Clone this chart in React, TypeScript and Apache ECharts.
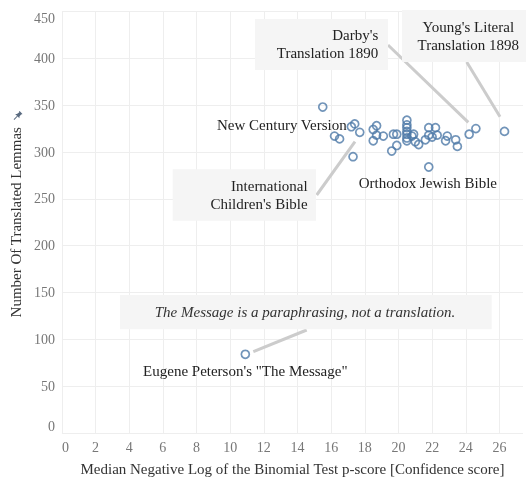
import React, { useEffect, useRef } from "react";
import * as echarts from "echarts";

const confidenceScores = [
  15.5, 16.2, 16.5, 17.3, 17.2, 17.4, 17.7, 18.5, 18.7, 18.5, 18.7, 19.1, 19.6, 19.9,
  19.7, 19.9, 20.5, 20.5, 20.5, 20.5, 20.5, 20.5, 20.5, 20.8, 20.9, 21.0, 21.2, 21.6,
  21.8, 22.2, 21.8, 22.0, 22.3, 22.8, 22.9, 23.4, 23.5, 21.8, 24.2, 24.6, 26.3, 10.9,
];
const translatedLemmas = [
  348, 317, 314, 295, 327, 330, 321, 324, 328, 312, 318, 317, 301, 307,
  319, 319, 334, 329, 326, 322, 319, 315, 312, 317, 319, 311, 308, 313,
  326, 326, 318, 316, 318, 312, 317, 313, 306, 284, 319, 325, 322, 84,
];
const xTickValues = [0, 2, 4, 6, 8, 10, 12, 14, 16, 18, 20, 22, 24, 26];
const yTickValues = [0, 50, 100, 150, 200, 250, 300, 350, 400, 450];

const FONT = "'Liberation Serif', 'Times New Roman', serif";
const BOX = "#f5f5f5";
const LINE = "#cccccc";
const TXT = "#222222";

export default function App() {
  const ref = useRef<HTMLDivElement>(null);
  useEffect(() => {
    if (!ref.current) return;
    const chart = echarts.init(ref.current, null, { renderer: "svg" });
    const data = confidenceScores.map((x, i) => [x, translatedLemmas[i]]);
    const txt = (x: number, y: number, text: string, align: string, extra: any = {}) => ({
      type: "text",
      x,
      y,
      z: 20,
      style: {
        text,
        fill: TXT,
        font: `15px ${FONT}`,
        align,
        verticalAlign: "middle",
        lineHeight: 18,
        ...extra,
      },
    });
    const rect = (x: number, y: number, w: number, h: number) => ({
      type: "rect",
      z: 10,
      shape: { x, y, width: w, height: h },
      style: { fill: BOX },
    });
    const line = (x1: number, y1: number, x2: number, y2: number) => ({
      type: "line",
      z: 9,
      shape: { x1, y1, x2, y2 },
      style: { stroke: LINE, lineWidth: 3 },
    });
    chart.setOption({
      animation: false,
      grid: { left: 60.7, top: 11.5, right: 3, bottom: 44, containLabel: false },
      xAxis: {
        type: "value",
        min: xTickValues[0],
        max: 27.4,
        interval: 2,
        name: "Median Negative Log of the Binomial Test p-score [Confidence score]",
        nameLocation: "middle",
        nameGap: 28,
        nameTextStyle: { fontFamily: FONT, fontSize: 15, color: "#333" },
        axisLine: { show: false },
        axisTick: { show: false },
        axisLabel: {
          fontFamily: FONT,
          fontSize: 14,
          color: "#777",
          margin: 7,
          showMaxLabel: false,
          alignMinLabel: "left",
          formatter: (v: number) => (xTickValues.includes(v) ? String(v) : ""),
        },
        splitLine: {
          show: true,
          showMaxLine: false,
          lineStyle: { color: "#eeeeee", width: 1 },
        },
      },
      yAxis: {
        type: "value",
        min: yTickValues[0],
        max: yTickValues[yTickValues.length - 1],
        interval: 50,
        name: "Number Of Translated Lemmas",
        nameLocation: "middle",
        nameGap: 37,
        nameTextStyle: { fontFamily: FONT, fontSize: 15, color: "#333" },
        axisLine: { show: false },
        axisTick: { show: false },
        axisLabel: {
          fontFamily: FONT,
          fontSize: 14,
          color: "#777",
          margin: 7,
          verticalAlignMinLabel: "bottom",
          verticalAlignMaxLabel: "top",
        },
        splitLine: { show: true, lineStyle: { color: "#eeeeee", width: 1 } },
      },
      series: [
        {
          type: "scatter",
          data,
          symbol: "circle",
          symbolSize: 8,
          itemStyle: { color: "rgba(255,255,255,0)", borderColor: "#4e79a7", borderWidth: 1.7 },
          z: 5,
        },
      ],
      graphic: [
        line(388, 45, 468.3, 122.3),
        line(466.7, 62, 500, 116.7),
        line(316.7, 195, 355, 141.7),
        line(253.3, 351.7, 306.7, 330),
        rect(255, 19, 133, 51),
        txt(378.3, 44, "Darby's\nTranslation 1890", "right"),
        rect(402, 10, 124, 52),
        txt(468.3, 35.5, "Young's Literal\nTranslation 1898", "center"),
        txt(346.7, 125, "New Century Version", "right"),
        rect(172.7, 169.3, 143.3, 51.4),
        txt(307.7, 194.7, "International\nChildren's Bible", "right"),
        txt(427.8, 182.7, "Orthodox Jewish Bible", "center"),
        rect(120, 295, 371.7, 34.3),
        txt(305, 312.3, "The Message is a paraphrasing, not a translation.", "center", {
          font: `italic 15px ${FONT}`,
          fill: "#333",
        }),
        txt(245.3, 371, "Eugene Peterson's \"The Message\"", "center"),
        {
          type: "group",
          x: 17.5,
          y: 116,
          rotation: -Math.PI / 4,
          z: 20,
          children: [
            {
              type: "polygon",
              shape: {
                points: [
                  [-2, -5], [2, -5], [2, -4], [1.4, -4], [1.8, -1], [3, 0.3],
                  [-3, 0.3], [-1.8, -1], [-1.4, -4], [-2, -4],
                ],
              },
              style: { fill: "#5a6b80" },
            },
            {
              type: "line",
              shape: { x1: 0, y1: 0, x2: 0, y2: 5 },
              style: { stroke: "#5a6b80", lineWidth: 1 },
            },
          ],
        },
      ],
    });
    return () => chart.dispose();
  }, []);
  return (
    <div
      ref={ref}
      style={{ position: "fixed", left: 0, top: 0, width: 526, height: 481 }}
    />
  );
}
